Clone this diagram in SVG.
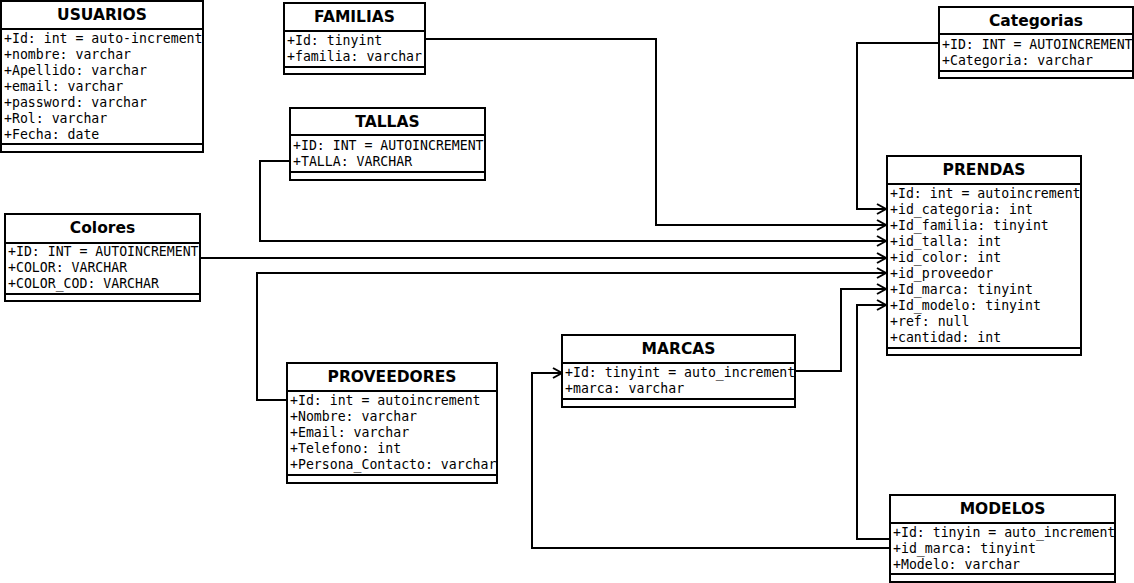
<svg xmlns="http://www.w3.org/2000/svg" width="1134" height="583" viewBox="0 0 1134 583">
<defs>
<style>
.box{fill:#fff;stroke:#000;stroke-width:2}
.sep{stroke:#000;stroke-width:2}
.t{font-family:"DejaVu Sans",sans-serif;font-weight:bold;font-size:15.5px;text-anchor:middle;fill:#000}
.a{font-family:"DejaVu Sans Mono",monospace;font-size:13.2px;fill:#000}
.c{fill:none;stroke:#000;stroke-width:2}
</style>
<marker id="arr" markerWidth="12" markerHeight="12" refX="10" refY="6" orient="auto" markerUnits="userSpaceOnUse">
<path d="M1,1 L10,6 L1,11" fill="none" stroke="#000" stroke-width="2"/>
</marker>
</defs>
<rect width="1134" height="583" fill="#fff"/>
<g id="connectors">
<path class="c" d="M425,39 H656 V225 H886" marker-end="url(#arr)"/>
<path class="c" d="M939,43 H857 V209 H886" marker-end="url(#arr)"/>
<path class="c" d="M290,161 H260 V241 H886" marker-end="url(#arr)"/>
<path class="c" d="M200,258 H886" marker-end="url(#arr)"/>
<path class="c" d="M287,400 H257 V273 H886" marker-end="url(#arr)"/>
<path class="c" d="M795,371 H841 V289 H886" marker-end="url(#arr)"/>
<path class="c" d="M890,539 H857 V305 H886" marker-end="url(#arr)"/>
<path class="c" d="M890,548 H532 V373 H562" marker-end="url(#arr)"/>
</g>
<g id="usuarios">
<rect class="box" x="1" y="1" width="202" height="151"/>
<line class="sep" x1="1" y1="29" x2="203" y2="29"/>
<line class="sep" x1="1" y1="144" x2="203" y2="144"/>
<text class="t" x="102" y="20">USUARIOS</text>
<text class="a" x="4" y="43">+Id: int = auto-increment</text>
<text class="a" x="4" y="59">+nombre: varchar</text>
<text class="a" x="4" y="75">+Apellido: varchar</text>
<text class="a" x="4" y="91">+email: varchar</text>
<text class="a" x="4" y="107">+password: varchar</text>
<text class="a" x="4" y="123">+Rol: varchar</text>
<text class="a" x="4" y="139">+Fecha: date</text>
</g>
<g id="familias">
<rect class="box" x="284" y="3" width="141" height="71"/>
<line class="sep" x1="284" y1="31" x2="425" y2="31"/>
<line class="sep" x1="284" y1="67" x2="425" y2="67"/>
<text class="t" x="354.5" y="22">FAMILIAS</text>
<text class="a" x="287" y="45">+Id: tinyint</text>
<text class="a" x="287" y="61">+familia: varchar</text>
</g>
<g id="tallas">
<rect class="box" x="290" y="108" width="195" height="72"/>
<line class="sep" x1="290" y1="135" x2="485" y2="135"/>
<line class="sep" x1="290" y1="172" x2="485" y2="172"/>
<text class="t" x="387.5" y="127">TALLAS</text>
<text class="a" x="293" y="150">+ID: INT = AUTOINCREMENT</text>
<text class="a" x="293" y="166">+TALLA: VARCHAR</text>
</g>
<g id="colores">
<rect class="box" x="5" y="214" width="195" height="87"/>
<line class="sep" x1="5" y1="243" x2="200" y2="243"/>
<line class="sep" x1="5" y1="294" x2="200" y2="294"/>
<text class="t" x="102.5" y="233">Colores</text>
<text class="a" x="8" y="256">+ID: INT = AUTOINCREMENT</text>
<text class="a" x="8" y="272">+COLOR: VARCHAR</text>
<text class="a" x="8" y="288">+COLOR_COD: VARCHAR</text>
</g>
<g id="categorias">
<rect class="box" x="939" y="7" width="194" height="71"/>
<line class="sep" x1="939" y1="34" x2="1133" y2="34"/>
<line class="sep" x1="939" y1="71" x2="1133" y2="71"/>
<text class="t" x="1036" y="26">Categorias</text>
<text class="a" x="942" y="49">+ID: INT = AUTOINCREMENT</text>
<text class="a" x="942" y="65">+Categoria: varchar</text>
</g>
<g id="prendas">
<rect class="box" x="887" y="156" width="194" height="199"/>
<line class="sep" x1="887" y1="184" x2="1081" y2="184"/>
<line class="sep" x1="887" y1="348" x2="1081" y2="348"/>
<text class="t" x="984" y="175">PRENDAS</text>
<text class="a" x="890" y="198">+Id: int = autoincrement</text>
<text class="a" x="890" y="214">+id_categoria: int</text>
<text class="a" x="890" y="230">+Id_familia: tinyint</text>
<text class="a" x="890" y="246">+id_talla: int</text>
<text class="a" x="890" y="262">+id_color: int</text>
<text class="a" x="890" y="278">+id_proveedor</text>
<text class="a" x="890" y="294">+Id_marca: tinyint</text>
<text class="a" x="890" y="310">+Id_modelo: tinyint</text>
<text class="a" x="890" y="326">+ref: null</text>
<text class="a" x="890" y="342">+cantidad: int</text>
</g>
<g id="marcas">
<rect class="box" x="562" y="335" width="233" height="72"/>
<line class="sep" x1="562" y1="363" x2="795" y2="363"/>
<line class="sep" x1="562" y1="399" x2="795" y2="399"/>
<text class="t" x="678.5" y="354">MARCAS</text>
<text class="a" x="565" y="377">+Id: tinyint = auto_increment</text>
<text class="a" x="565" y="393">+marca: varchar</text>
</g>
<g id="proveedores">
<rect class="box" x="287" y="363" width="210" height="120"/>
<line class="sep" x1="287" y1="391" x2="497" y2="391"/>
<line class="sep" x1="287" y1="475" x2="497" y2="475"/>
<text class="t" x="392" y="382">PROVEEDORES</text>
<text class="a" x="290" y="405">+Id: int = autoincrement</text>
<text class="a" x="290" y="421">+Nombre: varchar</text>
<text class="a" x="290" y="437">+Email: varchar</text>
<text class="a" x="290" y="453">+Telefono: int</text>
<text class="a" x="290" y="469">+Persona_Contacto: varchar</text>
</g>
<g id="modelos">
<rect class="box" x="890" y="495" width="225" height="87"/>
<line class="sep" x1="890" y1="523" x2="1115" y2="523"/>
<line class="sep" x1="890" y1="574" x2="1115" y2="574"/>
<text class="t" x="1002.5" y="514">MODELOS</text>
<text class="a" x="893" y="537">+Id: tinyin = auto_increment</text>
<text class="a" x="893" y="553">+id_marca: tinyint</text>
<text class="a" x="893" y="569">+Modelo: varchar</text>
</g>
</svg>
